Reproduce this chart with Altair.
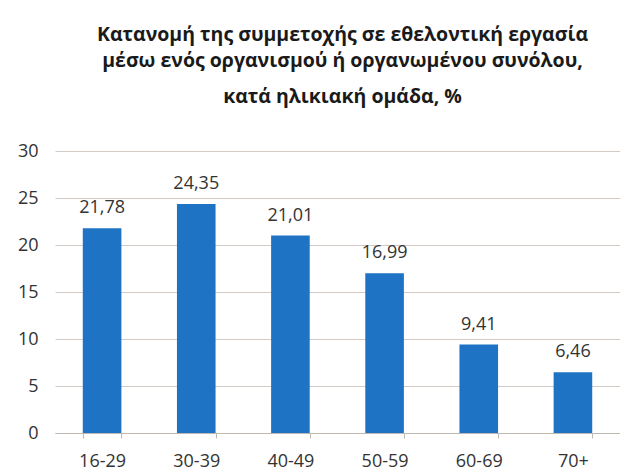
import altair as alt
import pandas as pd

groups = ["16-29", "30-39", "40-49", "50-59", "60-69", "70+"]
values = [21.78, 24.35, 21.01, 16.99, 9.41, 6.46]
labels = ["21,78", "24,35", "21,01", "16,99", "9,41", "6,46"]

df = pd.DataFrame({"group": groups, "value": values, "label": labels})

FONT = "Open Sans"

base = alt.Chart(df).encode(
    x=alt.X("group:N", sort=groups, title=None,
            scale=alt.Scale(paddingInner=0.59, paddingOuter=0.295),
            axis=alt.Axis(labelAngle=0, labelFont=FONT, labelFontSize=18,
                          labelColor="#333333", domainColor="#BFB8B0",
                          tickColor="#BFB8B0", tickBand="extent", tickSize=5,
                          labelPadding=14, grid=False)),
)

bars = base.mark_bar(color="#1F73C4").encode(
    y=alt.Y("value:Q", title=None,
            scale=alt.Scale(domain=[0, 30]),
            axis=alt.Axis(values=[0, 5, 10, 15, 20, 25, 30], labelFont=FONT,
                          labelFontSize=18, labelColor="#333333", domain=False,
                          ticks=False, gridColor="#D3CBC3", labelPadding=17)),
)

text = base.mark_text(dy=-20, font=FONT, fontSize=18, color="#333333").encode(
    y="value:Q", text="label:N"
)

chart = (bars + text).properties(
    width=565, height=282,
    title=alt.TitleParams(
        ["Κατανομή της συμμετοχής σε εθελοντική εργασία",
         "μέσω ενός οργανισμού ή οργανωμένου συνόλου,"],
        subtitle="κατά ηλικιακή ομάδα, %",
        font=FONT, fontSize=19.5, fontWeight="bold", color="#1a1a1a",
        subtitleFont=FONT, subtitleFontSize=19.5, subtitleFontWeight="bold",
        subtitleColor="#1a1a1a", lineHeight=26, subtitleLineHeight=26,
        subtitlePadding=16, anchor="middle", offset=35, dx=5,
    ),
    padding={"top": 17, "left": 9, "right": 0, "bottom": 0},
).configure_view(stroke=None)

chart.save("out.html", embed_options={"renderer": "svg", "actions": False})
